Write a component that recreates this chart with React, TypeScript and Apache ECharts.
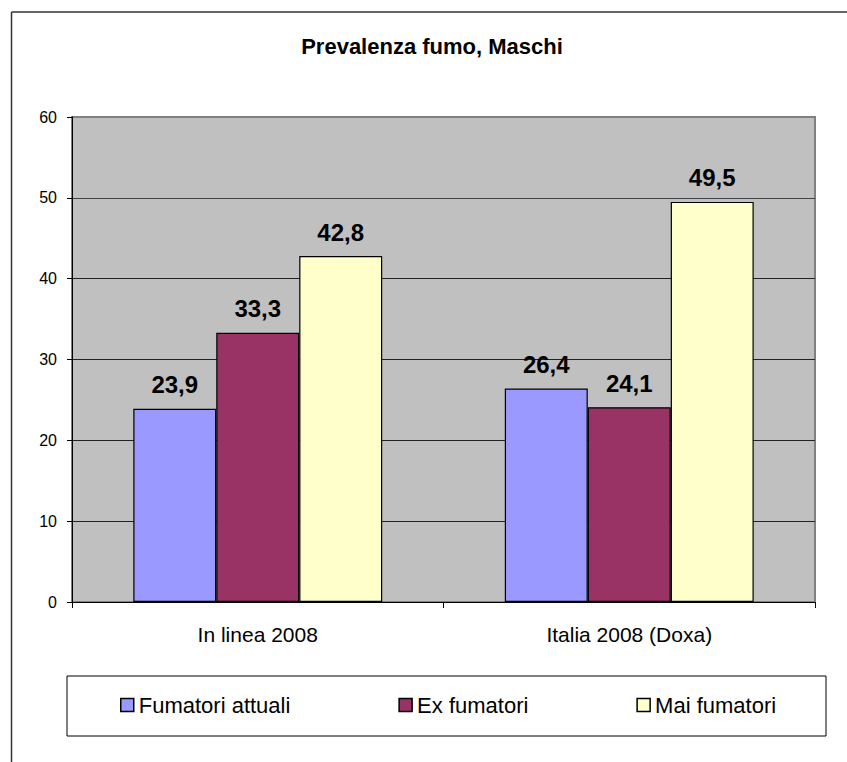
import React, { useEffect, useRef } from "react";
import * as echarts from "echarts";

const categories = ["In linea 2008", "Italia 2008 (Doxa)"];
const seriesNames = ["Fumatori attuali", "Ex fumatori", "Mai fumatori"];
const fumatoriAttuali = [23.9, 26.4];
const exFumatori = [33.3, 24.1];
const maiFumatori = [42.8, 49.5];
const seriesColors = ["#9999FF", "#993366", "#FFFFCC"];
const titleText = "Prevalenza fumo, Maschi";

const FONT = "'Liberation Sans', Arial, Helvetica, sans-serif";

export default function App() {
  const ref = useRef<HTMLDivElement>(null);
  useEffect(() => {
    if (!ref.current) return;
    const chart = echarts.init(ref.current, undefined, { renderer: "svg" });
    const values = [fumatoriAttuali, exFumatori, maiFumatori];
    const option: any = {
      animation: false,
      backgroundColor: "#ffffff",
      textStyle: { fontFamily: FONT },
      title: {
        text: titleText,
        left: 432,
        top: 35,
        textAlign: "center",
        padding: 0,
        textStyle: { fontFamily: FONT, fontSize: 22, fontWeight: "bold", color: "#000" },
      },
      graphic: [
        { type: "line", shape: { x1: 11.5, y1: 12, x2: 847, y2: 12 }, style: { stroke: "#333", lineWidth: 1.5 } },
        { type: "line", shape: { x1: 11.5, y1: 12, x2: 11.5, y2: 762 }, style: { stroke: "#333", lineWidth: 1.5 } },
        { type: "rect", shape: { x: 67, y: 676, width: 759, height: 60 }, style: { fill: "#fff", stroke: "#000", lineWidth: 1 }, z: -1 },
      ],
      legend: {
        left: 120,
        top: 694,
        padding: 0,
        itemGap: 108,
        itemWidth: 13,
        itemHeight: 13,
        icon: "rect",
        itemStyle: { borderColor: "#000", borderWidth: 1.5 },
        textStyle: { fontFamily: FONT, fontSize: 22, color: "#000" },
        data: seriesNames,
      },
      grid: {
        left: 72,
        top: 117,
        right: 32,
        bottom: 160,
        show: true,
        backgroundColor: "#C0C0C0",
        borderColor: "#808080",
        borderWidth: 2,
        containLabel: false,
        outerBoundsMode: "none",
      },
      xAxis: {
        type: "category",
        data: categories,
        axisLine: { show: true, lineStyle: { color: "#000", width: 1 } },
        axisTick: { show: true, length: 6, alignWithLabel: false, lineStyle: { color: "#000" } },
        axisLabel: { margin: 22, fontFamily: FONT, fontSize: 21, color: "#000" },
        splitLine: { show: false },
      },
      yAxis: {
        type: "value",
        min: 0,
        max: 60,
        interval: 10,
        axisLine: { show: true, lineStyle: { color: "#000", width: 1 } },
        axisTick: { show: true, length: 5, lineStyle: { color: "#000" } },
        axisLabel: { margin: 15, fontFamily: FONT, fontSize: 16, color: "#000" },
        splitLine: {
          show: true,
          lineStyle: {
            color: ["#000", "#222", "#222", "#222", "#222", "#444", "#808080"],
            width: 1,
          },
        },
      },
      series: seriesNames.map((name, i) => ({
        name,
        type: "bar",
        data: values[i],
        barGap: "0%",
        barCategoryGap: "33%",
        itemStyle: { color: seriesColors[i], borderColor: "#000", borderWidth: 1.2 },
        label: {
          show: true,
          position: "top",
          distance: 12,
          fontFamily: FONT,
          fontSize: 24,
          fontWeight: "bold",
          color: "#000",
          formatter: (p: any) => String(p.value).replace(".", ","),
        },
      })),
    };
    chart.setOption(option);
    return () => chart.dispose();
  }, []);
  return (
    <div
      ref={ref}
      style={{ position: "absolute", left: 0, top: 0, width: 847, height: 762, background: "#fff" }}
    />
  );
}
